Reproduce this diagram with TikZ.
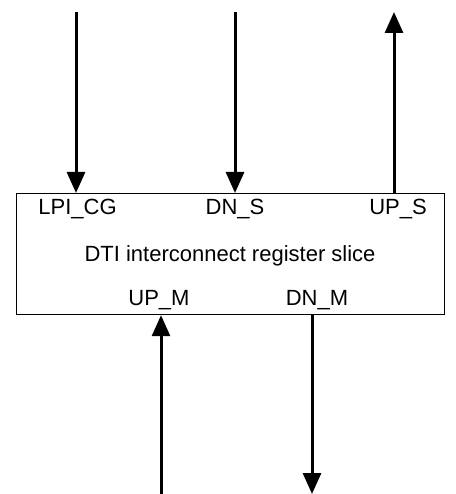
\documentclass[tikz,border=0pt]{standalone}
\usepackage{fontspec}
\setmainfont{Liberation Sans}
\usetikzlibrary{arrows.meta}
\begin{document}
\begin{tikzpicture}[x=1pt,y=-1pt,
  sig/.style={line width=3pt,-{Triangle[width=18pt,length=21pt]}},
  lbl/.style={anchor=base,inner sep=0pt,font=\fontsize{22}{24}\selectfont}]
\useasboundingbox (0,0) rectangle (455,494);
\node[draw,line width=1.2pt,minimum width=428pt,minimum height=121pt,inner sep=0pt,anchor=north west] (box) at (16,193) {};
\node[lbl] (lpi) at (77.5,214) {LPI\_CG};
\node[lbl] (dns) at (235,214) {DN\_S};
\node[lbl] (ups) at (398,214) {UP\_S};
\node[lbl] (title) at (230,261) {DTI interconnect register slice};
\node[lbl] (upm) at (159,305) {UP\_M};
\node[lbl] (dnm) at (317,305) {DN\_M};
\coordinate (a1) at (76,12);
\coordinate (a2) at (235,12);
\coordinate (a3) at (394,12);
\coordinate (a4) at (161,494);
\coordinate (a5) at (312,494);
\draw[sig] (a1) -- (a1 |- box.north);
\draw[sig] (a2) -- (a2 |- box.north);
\draw[sig] (a3 |- box.north) -- (a3);
\draw[sig] (a4) -- (a4 |- box.south);
\draw[sig] (a5 |- box.south) -- (a5);
\end{tikzpicture}
\end{document}
